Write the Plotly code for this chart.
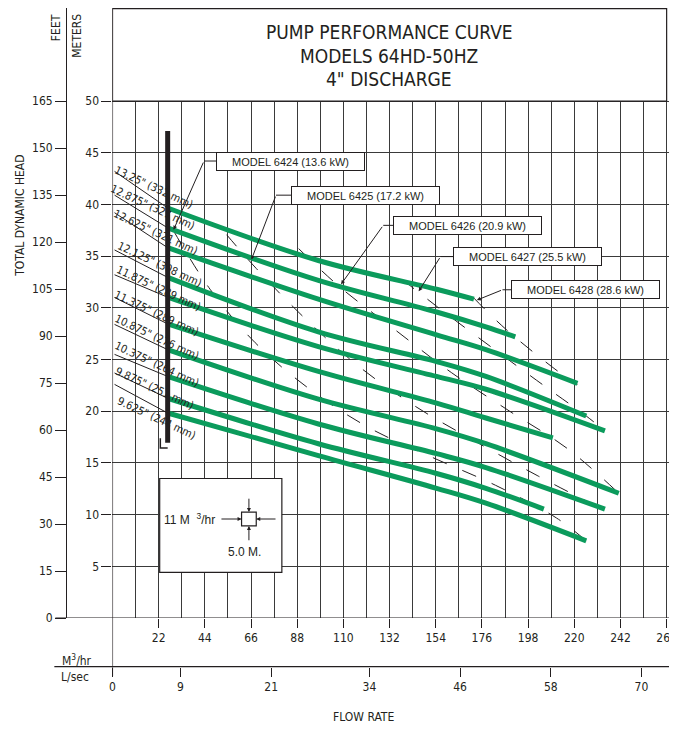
import plotly.graph_objects as go

# the page keeps its default 8 px body margin, so the figure is drawn 8 px in
# from the top-left corner and sized to fill the rest of the 677x735 window
OFF = 8
FW, FH = 677 - OFF, 735 - OFF
NARROW = "Liberation Sans Narrow, DejaVu Sans Condensed, Arial Narrow, sans-serif"
REG = "Liberation Sans, Arial, Helvetica, sans-serif"
INK = "#231f20"
GRID = "#3a3a3a"
GREEN = "#0b9b5c"

# axis ticks
flow_ticks = [22, 44, 66, 88, 110, 132, 154, 176, 198, 220, 242, 264]   # M3/hr
lsec_ticks = [0, 9, 21, 34, 46, 58, 70]                                 # L/sec
meter_ticks = [5, 10, 15, 20, 25, 30, 35, 40, 45, 50]
feet_ticks = [0, 15, 30, 45, 60, 75, 90, 105, 120, 135, 150, 165]

# impeller curves (flow M3/hr, head m)
curve_labels = ['13.25" (332 mm)', '12.875" (327 mm)', '12.625" (321 mm)',
                '12.125" (308 mm)', '11.875" (289 mm)', '11.375" (289 mm)',
                '10.875" (276 mm)', '10.375" (264 mm)', '9.875" (251 mm)',
                '9.625" (244 mm)']
curve_flow = [
    [26.3, 98.1, 154.4, 172.2],
    [26.3, 98.1, 154.4, 177.9, 191.9],
    [26.3, 98.1, 154.4, 177.9, 221.5],
    [26.3, 98.1, 154.4, 177.9, 225.7],
    [26.3, 98.1, 154.4, 177.9, 234.6],
    [26.3, 98.1, 154.4, 177.9, 209.8],
    [26.3, 98.1, 154.4, 177.9, 241.2],
    [26.3, 98.1, 154.4, 177.9, 234.6],
    [26.3, 98.1, 154.4, 177.9, 205.5],
    [26.3, 98.1, 154.4, 177.9, 225.7],
]
curve_head = [
    [39.66, 34.58, 31.80, 30.84],
    [37.74, 32.66, 29.60, 28.16, 27.20],
    [35.82, 30.84, 27.39, 25.96, 22.70],
    [32.95, 27.68, 24.81, 23.37, 19.54],
    [31.03, 26.25, 23.37, 22.13, 18.10],
    [28.45, 23.85, 20.79, 19.35, 17.43],
    [25.96, 21.17, 18.30, 16.86, 12.07],
    [23.37, 18.77, 15.90, 14.56, 10.54],
    [21.26, 16.86, 13.98, 12.55, 10.54],
    [19.83, 15.71, 12.55, 11.11, 7.47],
]
shutoff_flow = 1.0
shutoff_head = [43.2, 40.9, 39.2, 35.6, 33.2, 31.0, 28.4, 25.5, 23.7, 22.6]
label_flow = [19.6, 19.2, 20.6, 22.4, 22.0, 21.1, 21.1, 21.1, 20.1, 21.1]
label_head = [41.6, 39.7, 37.3, 34.2, 31.9, 29.5, 27.1, 24.5, 22.2, 19.3]

# motor limit lines (dashed)
limit_flow = [
    [29.1, 46.5, 68.0, 93.4, 121.5, 151.6, 182.5, 211.6, 225.7],
    [54.4, 68.5, 91.5, 116.8, 144.1, 173.2, 202.3, 234.2],
    [88.7, 107.9, 134.7, 161.4, 189.1, 216.8, 241.2],
    [138.0, 154.9, 182.1, 209.3, 225.7, 234.6],
    [172.2, 187.2, 213.0, 221.5],
]
limit_head = [
    [37.45, 31.80, 26.63, 22.22, 18.49, 15.61, 12.84, 9.67, 7.47],
    [37.07, 33.81, 29.02, 24.43, 20.50, 17.05, 13.79, 10.44],
    [35.73, 32.09, 27.87, 23.75, 20.02, 16.38, 12.07],
    [32.76, 30.08, 25.96, 21.93, 19.54, 18.10],
    [30.94, 27.97, 23.75, 22.61],
]

# model call-outs: label, box centre, elbow, arrow tip
model_labels = ["MODEL 6424 (13.6 kW)", "MODEL 6425 (17.2 kW)", "MODEL 6426 (20.9 kW)",
                "MODEL 6427 (25.5 kW)", "MODEL 6428 (28.6 kW)"]
model_box_flow = [84.7, 120.4, 169.2, 197.6, 225.2]
model_box_head = [44.2, 40.9, 37.98, 34.96, 31.75]
model_elbow_flow = [43.6, 77.9, 129.0, 156.3, 185.8]
model_tip_flow = [29.1, 66.2, 108.9, 145.9, 173.6]
model_tip_head = [37.55, 34.67, 32.28, 31.61, 30.75]

X_MAX = 265.6
Y_MAX = 59.0
FT_PER_M = 3.3
BOX_W = 149 / 2.131   # call-out box width in flow units


def px(x):
    """window x pixel -> paper fraction"""
    return (x - OFF) / FW


def py(y):
    """window y pixel -> paper fraction"""
    return (FH - (y - OFF)) / FH


fig = go.Figure()

# thin shut-off segments
for i in range(len(curve_labels)):
    fig.add_trace(go.Scatter(
        x=[shutoff_flow, curve_flow[i][0]], y=[shutoff_head[i], curve_head[i][0]],
        mode="lines", line=dict(color=INK, width=1), hoverinfo="skip"))

# dashed motor limits
for fx, hy in zip(limit_flow, limit_head):
    fig.add_trace(go.Scatter(
        x=fx, y=hy, mode="lines", line=dict(color=INK, width=1, dash="15px,17px", shape="spline"),
        hoverinfo="skip"))

# green curves
for fx, hy in zip(curve_flow, curve_head):
    fig.add_trace(go.Scatter(
        x=fx, y=hy, mode="lines", line=dict(color=GREEN, width=5, shape="spline", smoothing=1.0),
        hoverinfo="skip"))

# black bar at minimum flow
fig.add_trace(go.Scatter(x=[26.3, 26.3], y=[47.1, 16.95], mode="lines",
                         line=dict(color=INK, width=5), hoverinfo="skip"))
fig.add_trace(go.Scatter(x=[22.8, 22.8, 26.3], y=[17.4, 16.45, 16.45], mode="lines",
                         line=dict(color=INK, width=1.5), hoverinfo="skip"))

# invisible traces to register the extra axes
fig.add_trace(go.Scatter(x=[0], y=[0], xaxis="x2", yaxis="y", mode="markers",
                         marker=dict(opacity=0), hoverinfo="skip"))
fig.add_trace(go.Scatter(x=[0], y=[0], xaxis="x", yaxis="y2", mode="markers",
                         marker=dict(opacity=0), hoverinfo="skip"))

shapes = []
# hide grid above the 50 m line and draw title box
shapes.append(dict(type="rect", xref="x", yref="y", x0=-1, x1=X_MAX + 1, y0=50, y1=Y_MAX + 1,
                   fillcolor="white", line=dict(width=0), layer="between"))
shapes.append(dict(type="rect", xref="x", yref="y", x0=0, x1=264, y0=50, y1=Y_MAX - 0.07,
                   fillcolor="rgba(0,0,0,0)", line=dict(color=INK, width=1.2), layer="between"))
# meters axis line, zero line, L/sec line extensions
shapes.append(dict(type="line", xref="x", yref="paper", x0=0, x1=0,
                   y0=py(683), y1=1, line=dict(color=INK, width=1.2)))
shapes.append(dict(type="line", xref="paper", yref="y", x0=px(53), x1=1, y0=0, y1=0,
                   line=dict(color=INK, width=1.2)))
shapes.append(dict(type="line", xref="paper", yref="paper", x0=px(52), x1=1,
                   y0=py(673), y1=py(673), line=dict(color=INK, width=1.2)))
# inset scale box
shapes.append(dict(type="rect", xref="x", yref="y", x0=22.5, x1=80.7, y0=4.41, y1=13.5,
                   fillcolor="white", line=dict(color=INK, width=1.2), layer="between"))
shapes.append(dict(type="rect", xref="x", yref="y", x0=61.5, x1=68.5, y0=8.91, y1=10.25,
                   fillcolor="white", line=dict(color=INK, width=1.2), layer="above"))
# call-out leaders (horizontal part)
for bx, by, ex in zip(model_box_flow, model_box_head, model_elbow_flow):
    shapes.append(dict(type="line", xref="x", yref="y", x0=bx - BOX_W / 2, x1=ex, y0=by, y1=by,
                       line=dict(color=INK, width=1)))
fig.update_layout(shapes=shapes)

CENTER = dict(xanchor="center", yanchor="middle", showarrow=False)
ann = []
for lab, lx, ly in zip(curve_labels, label_flow, label_head):
    ann.append(dict(x=lx, y=ly, xref="x", yref="y", text=lab, textangle=25,
                    font=dict(family=NARROW, size=11, color=INK), **CENTER))
for lab, bx, by, ex, tx, ty in zip(model_labels, model_box_flow, model_box_head,
                                   model_elbow_flow, model_tip_flow, model_tip_head):
    ann.append(dict(x=tx, y=ty, xref="x", yref="y", ax=ex, ay=by, axref="x", ayref="y",
                    text="", showarrow=True, arrowhead=2, arrowsize=0.8, arrowwidth=1,
                    arrowcolor=INK, standoff=0))
    ann.append(dict(x=bx, y=by, xref="x", yref="y", text=lab,
                    width=145, height=15, bgcolor="white", bordercolor=INK, borderwidth=1,
                    borderpad=1, font=dict(family=REG, size=11, color=INK), **CENTER))
# inset arrows and text
for x0, y0, x1, y1 in [(51.2, 9.58, 61.5, 9.58), (78.4, 9.58, 68.5, 9.58),
                       (65.0, 11.69, 65.0, 10.25), (65.0, 7.38, 65.0, 8.91)]:
    ann.append(dict(x=x1, y=y1, ax=x0, ay=y0, xref="x", yref="y", axref="x", ayref="y",
                    text="", showarrow=True, arrowhead=2, arrowsize=0.8, arrowwidth=1,
                    arrowcolor=INK, standoff=0))
ann.append(dict(x=36.6, y=9.58, xref="x", yref="y", text="11 M  <sup>3</sup>/hr",
                font=dict(family=REG, size=12, color=INK), **CENTER))
ann.append(dict(x=62.9, y=6.42, xref="x", yref="y", text="5.0 M.",
                font=dict(family=REG, size=12, color=INK), **CENTER))

for txt, ty in [("PUMP PERFORMANCE CURVE", 32), ("MODELS 64HD-50HZ", 56), ('4" DISCHARGE', 80)]:
    ann.append(dict(x=px(392), y=py(ty), xref="paper", yref="paper", text=txt,
                    font=dict(family=NARROW, size=19, color=INK), **CENTER))
for txt, tx, ty, ang in [("FEET", 53, 28, -90), ("METERS", 75, 36, -90),
                         ("TOTAL DYNAMIC HEAD", 17, 218, -90),
                         ("M<sup>3</sup>/hr", 75, 666, 0), ("L/sec", 73, 684, 0),
                         ("FLOW RATE", 366, 724, 0)]:
    ann.append(dict(x=px(tx), y=py(ty), xref="paper", yref="paper", text=txt, textangle=ang,
                    font=dict(family=NARROW, size=12, color=INK), **CENTER))
fig.update_layout(annotations=ann)

axis_common = dict(ticks="outside", tickcolor=INK, tickwidth=1.2, zeroline=False,
                   tickfont=dict(family=NARROW, size=12, color=INK), fixedrange=True)
fig.update_layout(
    width=FW, height=FH, margin=dict(l=0, r=0, t=0, b=0), autosize=False,
    paper_bgcolor="white", plot_bgcolor="white", showlegend=False,
    font=dict(family=NARROW, size=12, color=INK),
    xaxis=dict(domain=[px(111), 1], range=[0, X_MAX], tickvals=flow_ticks, ticklen=9,
               showgrid=True, gridcolor=GRID, gridwidth=1, showline=False,
               ticklabeloverflow="allow",
               minor=dict(dtick=11, tick0=0, showgrid=True, gridcolor=GRID, gridwidth=1, ticks=""),
               **axis_common),
    yaxis=dict(domain=[py(624), 1], range=[0, Y_MAX], tickvals=meter_ticks, ticklen=10,
               showgrid=True, gridcolor=GRID, gridwidth=1, showline=False, **axis_common),
    xaxis2=dict(overlaying="x", anchor="free", position=py(673), side="bottom",
                range=[0, X_MAX / 3.6], tickvals=lsec_ticks, ticklen=9, showgrid=False,
                showline=False, **axis_common),
    yaxis2=dict(overlaying="y", anchor="free", position=px(64), side="left",
                range=[0, Y_MAX * FT_PER_M], tickvals=feet_ticks, ticklen=11, showgrid=False,
                showline=True, linecolor=INK, linewidth=1.2, **axis_common),
)

fig.write_html("out.html", config={"displayModeBar": False, "responsive": False})
